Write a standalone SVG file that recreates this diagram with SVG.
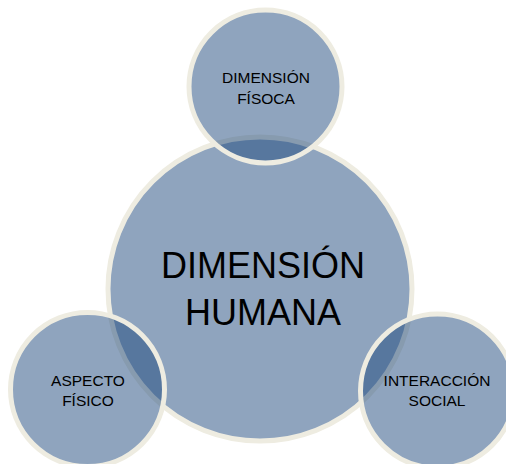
<svg xmlns="http://www.w3.org/2000/svg" width="506" height="464" viewBox="0 0 506 464">
<style>
.c{fill:#1F497D;fill-opacity:0.5;stroke:#EEECE1;stroke-width:5}
.t{font-family:"Liberation Sans",Arial,sans-serif;fill:#000;text-anchor:middle}
.big{font-size:36px}
.sm{font-size:15.5px}
</style>
<rect width="506" height="464" fill="#fff"/>
<g id="dimension-humana"><circle class="c" cx="260" cy="289" r="152"/></g>
<g id="dimension-fisoca"><circle class="c" cx="265.5" cy="86.5" r="76.5"/></g>
<g id="aspecto-fisico"><circle class="c" cx="87.5" cy="389.5" r="77"/></g>
<g id="interaccion-social"><circle class="c" cx="437.5" cy="391" r="77"/></g>
<g id="labels">
<text class="t big" x="263" y="278">DIMENSIÓN</text>
<text class="t big" x="263" y="325">HUMANA</text>
<text class="t sm" x="266" y="83">DIMENSIÓN</text>
<text class="t sm" x="266" y="104">FÍSOCA</text>
<text class="t sm" x="88" y="386">ASPECTO</text>
<text class="t sm" x="88" y="406">FÍSICO</text>
<text class="t sm" x="437" y="386">INTERACCIÓN</text>
<text class="t sm" x="437" y="406">SOCIAL</text>
</g>
<g id="connectors"></g>
</svg>
